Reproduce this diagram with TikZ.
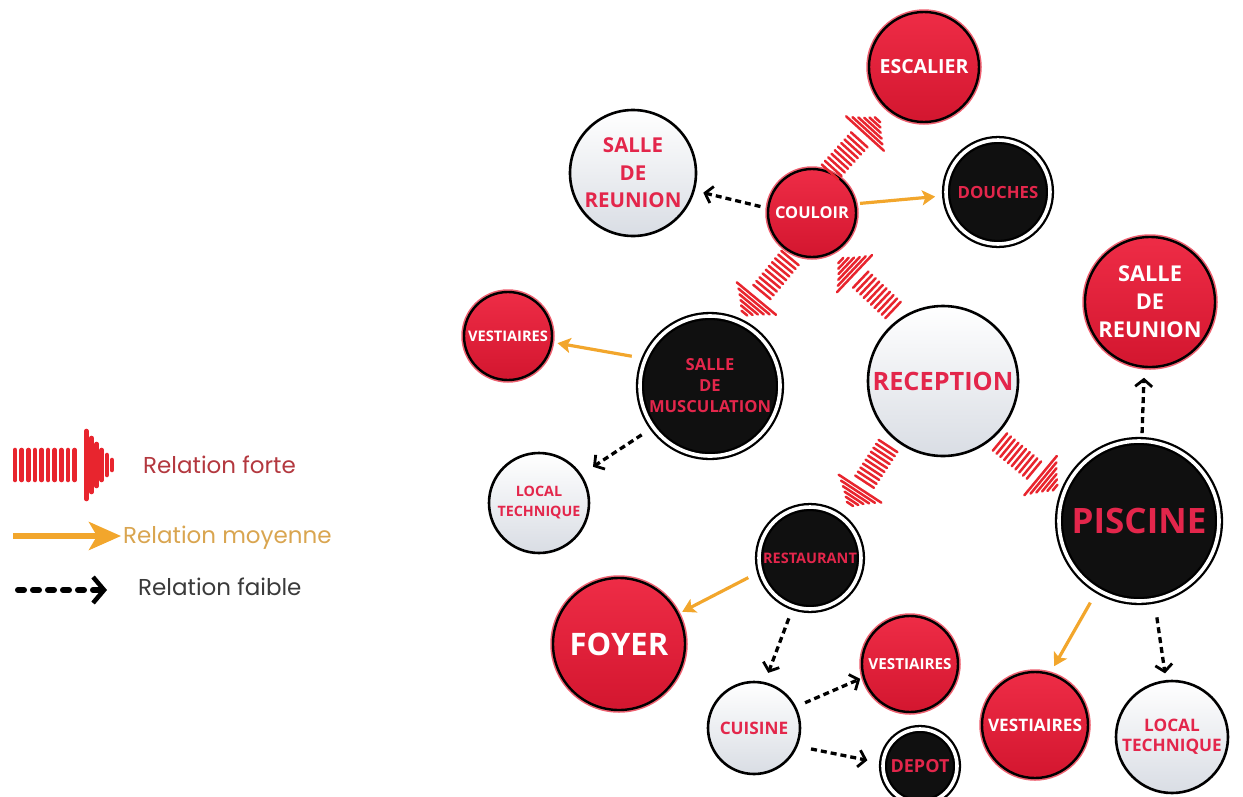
\documentclass[tikz,border=0pt]{standalone}
\usepackage{fontspec}
\setmainfont{Open Sans}
\newfontfamily\legfont{Poppins}
\usetikzlibrary{arrows.meta,calc}

\definecolor{redtop}{HTML}{EE2C46}
\definecolor{redbot}{HTML}{D3162F}
\definecolor{redglow}{HTML}{EE6070}
\definecolor{redtxt}{HTML}{E3264B}
\definecolor{wbot}{HTML}{D9DDE4}
\definecolor{nblack}{HTML}{101010}
\definecolor{hatch}{HTML}{E8252E}
\definecolor{orangearr}{HTML}{F2A62C}
\definecolor{fortetxt}{HTML}{B3383F}
\definecolor{moytxt}{HTML}{D9A550}
\definecolor{faibletxt}{HTML}{3A3A3A}

\newcommand\nfs[2]{\fontsize{#1}{#2}\selectfont\bfseries}

% hatched "strong" arrow: #1 tail, #2 tip, #3 width scale, #4 stroke width
\newcommand\hatcharrow[4]{%
  \foreach \ta/\hb in {0/15,0.065/15,0.13/15,0.195/15,0.26/15,0.325/15,0.39/15,0.455/15,0.52/15,0.585/15,0.70/34,0.75/27,0.80/21,0.85/15,0.90/10,0.95/5}{%
    \pgfmathsetmacro\hh{\hb*#3}%
    \coordinate (hp) at ($(#1)!\ta!(#2)$);
    \draw[hatchline, line width=#4] ($(hp)!\hh pt!90:(#2)$) -- ($(hp)!\hh pt!-90:(#2)$);
  }%
}

\tikzset{
  rnode/.style={circle, inner sep=0pt, outer sep=0pt, minimum size=#1, top color=redtop, bottom color=redbot, draw=black, line width=2.4pt, text=white, align=center, preaction={draw=redglow, line width=5.5pt}},
  wnode/.style={circle, inner sep=0pt, outer sep=0pt, minimum size=#1, top color=white, bottom color=wbot, draw=black, line width=2.6pt, text=redtxt, align=center},
  bnode/.style={circle, inner sep=0pt, outer sep=0pt, minimum size=#1, fill=nblack, draw=black, double=white, double distance=3.6pt, line width=2.3pt, text=redtxt, align=center},
  medium/.style={draw=orangearr, line width=3.2pt, -{Stealth[length=13pt,width=15pt,inset=3pt]}},
  weak/.style={draw=black, line width=3.3pt, dash pattern=on 6pt off 4pt, -{Straight Barb[length=7pt,width=17pt,line width=2.8pt]}},
  hatchline/.style={draw=hatch, line cap=round},
  legtxt/.style={font=\legfont\fontsize{23}{27}\selectfont, anchor=west, inner sep=0pt},
  medleg/.style={draw=orangearr, line width=5.5pt, -{Stealth[length=32pt,width=28pt,inset=8pt]}},
  weakleg/.style={draw=black, line width=6pt, line cap=round, dash pattern=on 6pt off 9pt, -{Straight Barb[length=11pt,width=26pt,line width=4.5pt]}},
}

\begin{document}
\begin{tikzpicture}[x=1pt,y=-1pt]
\useasboundingbox (0,0) rectangle (1243,796);

% ---------- nodes ----------
\node[rnode=110pt, font=\nfs{19.5}{23}] (escalier) at (924,67) {ESCALIER};
\node[wnode=126pt, font=\nfs{20.5}{27.5}] (sdrL) at (633,173) {SALLE\\DE\\REUNION};
\node[rnode=88pt, font=\nfs{16.4}{20}] (couloir) at (812,213) {COULOIR};
\node[bnode=104pt, font=\nfs{16.8}{20}] (douches) at (998,192) {DOUCHES};
\node[rnode=130pt, font=\nfs{21.8}{28}] (sdrR) at (1150,302) {SALLE\\DE\\REUNION};
\node[rnode=88pt, font=\nfs{14.6}{19}] (vestL) at (508,336) {VESTIAIRES};
\node[bnode=140pt, font=\nfs{16.6}{21}] (musc) at (710,386) {SALLE\\DE\\MUSCULATION};
\node[wnode=150pt, font=\nfs{25.3}{30}] (reception) at (943,381) {RECEPTION};
\node[wnode=100pt, font=\nfs{14.3}{20}] (locL) at (539,503) {LOCAL\\TECHNIQUE};
\node[bnode=160pt, font=\nfs{35}{40}] (piscine) at (1139,521) {PISCINE};
\node[bnode=102pt, font=\nfs{14.5}{18}] (restaurant) at (810,558) {RESTAURANT};
\node[rnode=132pt, font=\nfs{31}{34}] (foyer) at (619,644) {FOYER};
\node[wnode=92pt, font=\nfs{17.2}{20}] (cuisine) at (754,728) {CUISINE};
\node[rnode=96pt, font=\nfs{15.2}{19}] (vestM) at (910,664) {VESTIAIRES};
\node[bnode=74pt, font=\nfs{18}{21}] (depot) at (920,766) {DEPOT};
\node[rnode=106pt, font=\nfs{17.2}{22}] (vestR) at (1035,725) {VESTIAIRES};
\node[wnode=112pt, font=\nfs{17.2}{20}] (locR) at (1172,737) {LOCAL\\TECHNIQUE};

% ---------- medium relations ----------
\draw[medium, shorten <=5pt, shorten >=11pt] (couloir.12) -- (douches.184);
\draw[medium, shorten <=14pt, shorten >=6pt] (musc.157) -- (vestL.-8);
\draw[medium, shorten <=14pt, shorten >=5pt] (restaurant.195) -- (foyer.27);
\draw[medium, shorten <=15pt, shorten >=9pt] (piscine.239) -- (vestR.74);

% ---------- weak relations ----------
\draw[weak, shorten <=8pt, shorten >=10pt] (couloir.174) -- (sdrL.-16);
\draw[weak, shorten <=14pt, shorten >=15pt] (musc.216) -- (locL.34);
\draw[weak, shorten <=8pt, shorten >=11pt] (piscine.88) -- (sdrR.265);
\draw[weak, shorten <=13pt, shorten >=11pt] (restaurant.251) -- (cuisine.77);
\draw[weak, shorten <=11pt, shorten >=4pt] (cuisine.27) -- (vestM.196);
\draw[weak, shorten <=15pt, shorten >=16pt] (cuisine.-23) -- (depot.176);
\draw[weak, shorten <=18pt, shorten >=8pt] (piscine.281) -- (locR.96);

% ---------- strong relations ----------
\coordinate (s1a) at (830,172);  \coordinate (s1b) at (880,117);
\coordinate (s2a) at (790,258);  \coordinate (s2b) at (742,316);
\coordinate (s3a) at (893,310);  \coordinate (s3b) at (838,258);
\coordinate (s4a) at (888,446);  \coordinate (s4b) at (848,507);
\coordinate (s5a) at (1000,442); \coordinate (s5b) at (1058,490);
\hatcharrow{s1a}{s1b}{0.75}{2.5pt}
\hatcharrow{s2a}{s2b}{0.75}{2.5pt}
\hatcharrow{s3a}{s3b}{0.75}{2.5pt}
\hatcharrow{s4a}{s4b}{0.75}{2.5pt}
\hatcharrow{s5a}{s5b}{0.75}{2.5pt}

% ---------- legend ----------
\coordinate (lfa) at (15,465); \coordinate (lfb) at (117,465);
\hatcharrow{lfa}{lfb}{1}{4.6pt}
\node[legtxt, text=fortetxt] (lf) at (143,465) {Relation forte};

\coordinate (lma) at (13,536); \coordinate (lmb) at (121,536);
\draw[medleg] (lma) -- (lmb);
\node[legtxt, text=moytxt] (lm) at (123,538) {Relation moyenne};

\coordinate (lwa) at (18,590); \coordinate (lwb) at (107,590);
\draw[weakleg] (lwa) -- (lwb);
\node[legtxt, text=faibletxt] (lw) at (138,587) {Relation faible};
\end{tikzpicture}
\end{document}
